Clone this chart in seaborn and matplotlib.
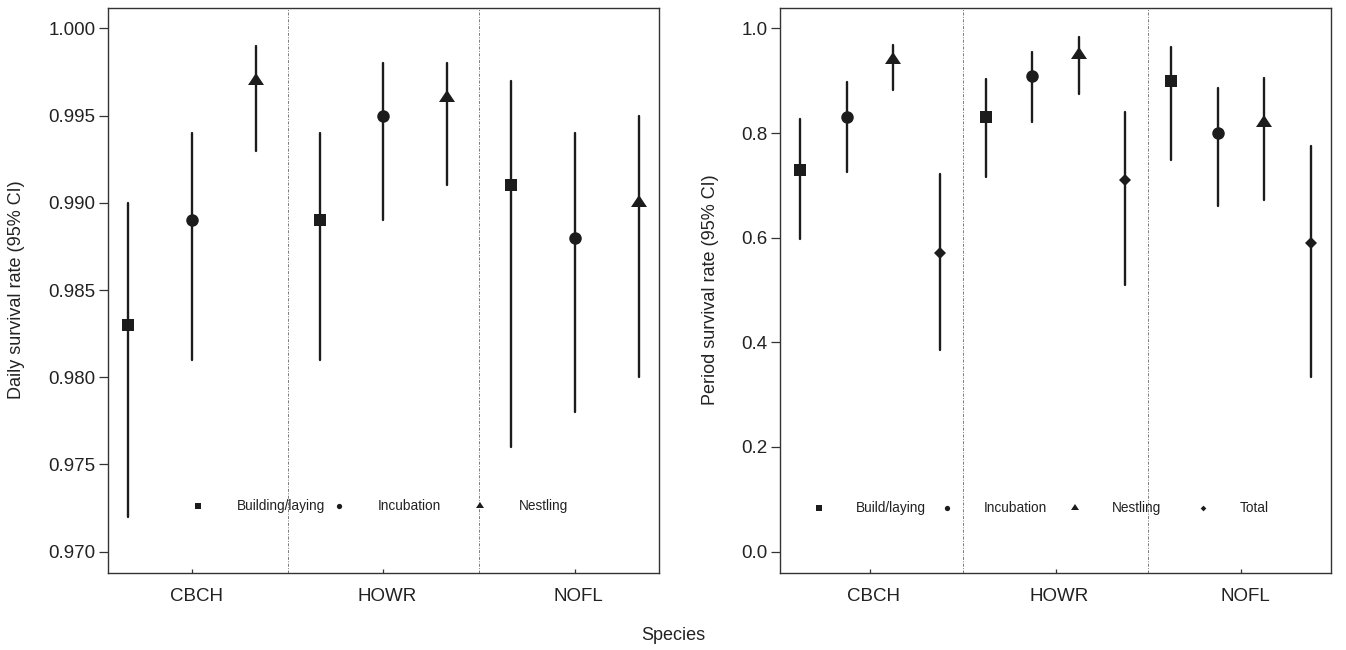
import matplotlib.pyplot as plt
import seaborn as sns
import numpy as np
import pandas as pd
from matplotlib.markers import MarkerStyle
from matplotlib.transforms import Affine2D, ScaledTranslation

species = ["CBCH", "HOWR", "NOFL"]

# Daily survival rate (95% CI), one list per phase, values in species order
daily_phases = ["Building/laying", "Incubation", "Nestling"]
daily_build = [0.983, 0.989, 0.991]
daily_build_lo = [0.972, 0.981, 0.976]
daily_build_hi = [0.990, 0.994, 0.997]
daily_incub = [0.989, 0.995, 0.988]
daily_incub_lo = [0.981, 0.989, 0.978]
daily_incub_hi = [0.994, 0.998, 0.994]
daily_nest = [0.997, 0.996, 0.990]
daily_nest_lo = [0.993, 0.991, 0.980]
daily_nest_hi = [0.999, 0.998, 0.995]

# Period survival rate (95% CI)
period_phases = ["Build/laying", "Incubation", "Nestling", "Total"]
period_build = [0.73, 0.83, 0.90]
period_build_lo = [0.597, 0.716, 0.748]
period_build_hi = [0.826, 0.903, 0.965]
period_incub = [0.83, 0.91, 0.80]
period_incub_lo = [0.725, 0.821, 0.660]
period_incub_hi = [0.897, 0.955, 0.887]
period_nest = [0.94, 0.95, 0.82]
period_nest_lo = [0.882, 0.875, 0.672]
period_nest_hi = [0.969, 0.983, 0.905]
period_total = [0.57, 0.71, 0.59]
period_total_lo = [0.386, 0.509, 0.334]
period_total_hi = [0.721, 0.841, 0.775]

INK = "#1c1c1c"
FRAME = "#333333"

# R-style triangle (pch 17): slightly flattened, anchored at its centroid
TRI = MarkerStyle("^", transform=Affine2D().scale(1.0, 0.8).translate(0, 0.8 / 6))
MARKER_SIZE = {"s": 9, "o": 9, "^": 11, "D": 6}
LEGEND_SIZE = {"s": 4.5, "o": 3.8, "^": 5.5, "D": 2.9}


def to_long(phases, est, lo, hi):
    """Three rows per estimate (lower, estimate, upper) so median / full range give point and CI."""
    rows = []
    for phase, e, l, h in zip(phases, est, lo, hi):
        for sp, a, b, c in zip(species, e, l, h):
            for v in (b, a, c):
                rows.append({"species": sp, "phase": phase, "rate": v})
    return pd.DataFrame(rows)


def draw_panel(ax, df, phases, markers, dodge):
    sns.pointplot(
        data=df, x="species", y="rate", hue="phase",
        order=species, hue_order=phases,
        estimator="median", errorbar=("pi", 100),
        dodge=dodge, markers=markers, linestyles="none",
        palette=[INK] * len(phases), markeredgewidth=0,
        err_kws={"linewidth": 1.7}, legend=False, ax=ax,
    )
    for line in ax.lines:
        size = MARKER_SIZE.get(line.get_marker())
        if size:
            line.set_markersize(size)
            line.set_zorder(3)

    # dash-dot separators between species
    for b in np.arange(len(species) - 1) + 0.5:
        ax.axvline(b, color="#7a7a7a", linewidth=0.7,
                   linestyle=(0, (3, 1.5, 1, 1.5)), zorder=1)

    ax.set_xlabel("")
    for side in ax.spines.values():
        side.set_visible(True)
        side.set_color(FRAME)
        side.set_linewidth(1.0)
    ax.tick_params(axis="y", left=True, direction="out", length=6.5, width=0.9, pad=2.5,
                   labelsize=13.5, color=FRAME, labelcolor="#222222")
    ax.tick_params(axis="x", bottom=True, direction="in", length=3, width=0.9, pad=11,
                   labelsize=13.5, color=FRAME, labelcolor="#222222")

    # species names sit a few pixels right of their ticks in the original
    shift = ScaledTranslation(4 / 100, 0, ax.figure.dpi_scale_trans)
    for lab in ax.get_xticklabels():
        lab.set_transform(lab.get_transform() + shift)


def draw_key(ax, phases, markers, x0, step, gap, y):
    """Horizontal key without a box, like R's legend(horiz=TRUE, bty='n')."""
    for i, (label, m) in enumerate(zip(phases, markers)):
        key = m if isinstance(m, str) else m.get_marker()
        x = x0 + i * step
        ax.plot([x], [y], marker=m, linestyle="none", color=INK,
                markersize=LEGEND_SIZE[key], markeredgewidth=0,
                transform=ax.transAxes, clip_on=False)
        ax.text(x + gap, y, label, transform=ax.transAxes, va="center",
                ha="left", fontsize=9.8, color="#222222")


sns.set_theme(style="white")
plt.rcParams["font.family"] = ["Liberation Sans", "DejaVu Sans"]

fig = plt.figure(figsize=(13.46, 6.5), dpi=100)
ax1 = fig.add_axes([0.0802, 0.1192, 0.4094, 0.8692])
ax2 = fig.add_axes([0.5795, 0.1192, 0.4094, 0.8692])

daily_df = to_long(
    daily_phases,
    [daily_build, daily_incub, daily_nest],
    [daily_build_lo, daily_incub_lo, daily_nest_lo],
    [daily_build_hi, daily_incub_hi, daily_nest_hi],
)
period_df = to_long(
    period_phases,
    [period_build, period_incub, period_nest, period_total],
    [period_build_lo, period_incub_lo, period_nest_lo, period_total_lo],
    [period_build_hi, period_incub_hi, period_nest_hi, period_total_hi],
)

daily_markers = ["s", "o", TRI]
period_markers = ["s", "o", TRI, "D"]

draw_panel(ax1, daily_df, daily_phases, daily_markers, dodge=2 / 3)
ax1.set_xlim(-0.44, 2.44)
ax1.set_ylim(0.9688, 1.0012)
ax1.set_yticks(np.arange(0.970, 1.0001, 0.005))
ax1.yaxis.set_major_formatter(plt.FormatStrFormatter("%.3f"))
ax1.set_ylabel("Daily survival rate (95% CI)", fontsize=13, color="#222222")
ax1.yaxis.set_label_coords(-0.15, 0.5)
draw_key(ax1, daily_phases, daily_markers, x0=0.163, step=0.256, gap=0.071, y=0.118)

draw_panel(ax2, period_df, period_phases, period_markers, dodge=0.75)
ax2.set_xlim(-0.485, 2.485)
ax2.set_ylim(-0.04, 1.04)
ax2.set_yticks(np.arange(0.0, 1.01, 0.2))
ax2.yaxis.set_major_formatter(plt.FormatStrFormatter("%.1f"))
ax2.set_ylabel("Period survival rate (95% CI)", fontsize=13, color="#222222")
ax2.yaxis.set_label_coords(-0.11, 0.5)
draw_key(ax2, period_phases, period_markers, x0=0.071, step=0.2323, gap=0.067, y=0.115)

fig.text(0.5, 0.023, "Species", ha="center", va="center", fontsize=13, color="#222222")

fig.savefig("out.png", dpi=100)
plt.close(fig)
